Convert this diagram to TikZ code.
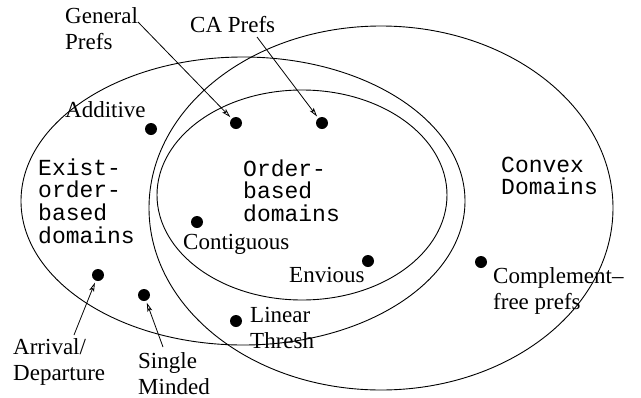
\documentclass[tikz,border=0pt]{standalone}
\usepackage{fontspec}
\setmainfont{Liberation Serif}
\setmonofont{Liberation Mono}
\usetikzlibrary{arrows.meta}
\newcommand{\mlines}[1]{\begin{tabular}[t]{@{}l@{}}#1\end{tabular}}
\begin{document}
\begin{tikzpicture}[x=1pt,y=-1pt,
  region/.style={draw=black, line width=0.9pt},
  dot/.style={circle, fill=black, inner sep=0pt, minimum size=12pt},
  lbl/.style={inner sep=0pt, anchor=base west, font=\fontsize{23}{26}\selectfont},
  mlbl/.style={inner sep=0pt, anchor=base west, font=\fontsize{23}{20.2}\selectfont\ttfamily},
  arr/.style={draw=black, line width=0.8pt, -{Stealth[length=9pt,width=5pt,inset=2pt,open]}, shorten >=2pt}]
\useasboundingbox (0,0) rectangle (641,397);
% regions
\draw[region] (243,201) ellipse [x radius=222, y radius=144];
\draw[region] (302,195) ellipse [x radius=145, y radius=105];
\draw[region] (381,208) ellipse [x radius=232, y radius=182];
% region labels
\node[mlbl] (exist) at (38,175) {\mlines{Exist-\\order-\\based\\domains}};
\node[mlbl] (order) at (243,176) {\mlines{Order-\\based\\domains}};
\node[mlbl] (convex) at (501,172) {\mlines{Convex\\Domains}};
% dots
\node[dot] (gp) at (236,123) {};
\node[dot] (ca) at (322,123) {};
\node[dot] (add) at (151,129) {};
\node[dot] (cont) at (197,222) {};
\node[dot] (arr) at (98,275) {};
\node[dot] (sm) at (144,295) {};
\node[dot] (lt) at (236,321) {};
\node[dot] (env) at (368,261) {};
\node[dot] (cf) at (481,262) {};
% labels
\node[lbl] (gpl) at (65,23) {\mlines{General\\Prefs}};
\node[lbl] (cal) at (190,32) {CA Prefs};
\node[lbl] (addl) at (65,117) {Additive};
\node[lbl] (contl) at (183,249) {Contiguous};
\node[lbl] (envl) at (289,282) {Envious};
\node[lbl] (cfl) at (493,283) {\mlines{Complement--\\free prefs}};
\node[lbl] (ltl) at (250,322) {\mlines{Linear\\Thresh}};
\node[lbl] (arrl) at (13,354) {\mlines{Arrival/\\Departure}};
\node[lbl] (sml) at (138,368) {\mlines{Single\\Minded}};
% arrow start points
\coordinate (gps) at (138,22);
\coordinate (cas) at (257,37);
\coordinate (arrs) at (74,335);
\coordinate (sms) at (163,347);
\draw[arr] (gps) -- (gp);
\draw[arr] (cas) -- (ca);
\draw[arr] (arrs) -- (arr);
\draw[arr] (sms) -- (sm);
\end{tikzpicture}
\end{document}
